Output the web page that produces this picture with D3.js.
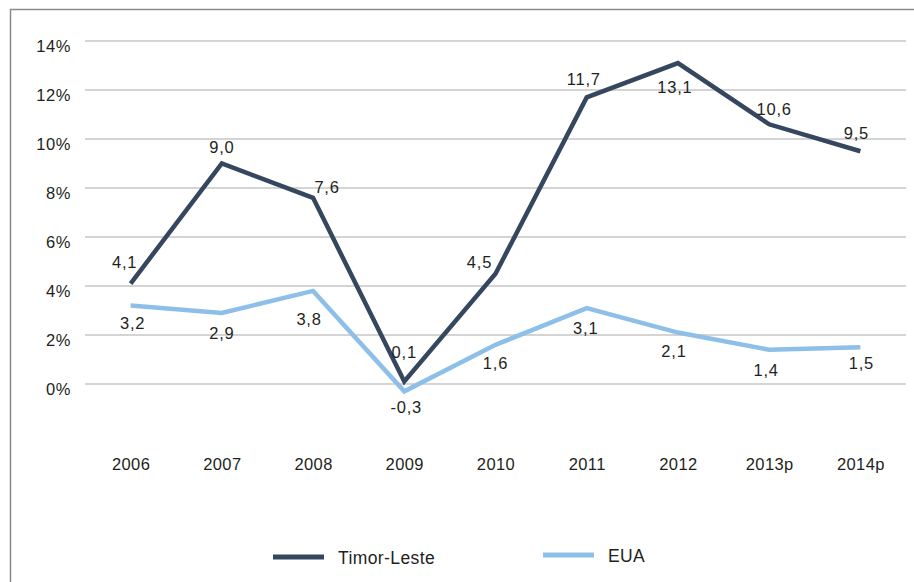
<!DOCTYPE html>
<html>
<head>
<meta charset="utf-8">
<script src="https://cdn.jsdelivr.net/npm/d3@7"></script>
<style>
  body { margin: 0; background: #fff; }
  text { font-family: "Liberation Sans", Arial, sans-serif; fill: #231f20; }
</style>
</head>
<body>
<div class="box"></div>
<script>
// DATA
const years = ['2006', '2007', '2008', '2009', '2010', '2011', '2012', '2013p', '2014p'];
const timor = [4.1, 9.0, 7.6, 0.1, 4.5, 11.7, 13.1, 10.6, 9.5];
const eua = [3.2, 2.9, 3.8, -0.3, 1.6, 3.1, 2.1, 1.4, 1.5];
const yTicks = [0, 2, 4, 6, 8, 10, 12, 14];
const seriesNames = ['Timor-Leste', 'EUA'];

// label nudges (pixels), like the hand placed labels of the original
const timorLabelShift = [[-6, -21], [0, -16], [14, -11], [0, -29], [-16, -12], [-3, -18], [-3, 24], [5, -15], [-4, -18]];
const euaLabelShift = [[2, 17], [0, 20], [-4, 28], [2, 16], [0, 18], [-1, 20], [-4, 19], [-3, 20], [1, 16]];

const width = 914, height = 582;
const colors = ['#34475f', '#8dbfe8'];

const svg = d3.select('.box')
              .append('svg')
              .attr('width', width)
              .attr('height', height);

// outer frame
svg.append('rect')
   .attr('x', 10.5).attr('y', 9.5)
   .attr('width', 920).attr('height', 600)
   .attr('fill', 'none')
   .attr('stroke', '#8a8a8a')
   .attr('stroke-width', 1.5);

const x = d3.scalePoint()
            .domain(years)
            .range([85, 906])
            .padding(0.5);

const y = d3.scaleLinear()
            .domain([0, 14])
            .range([384, 41]);

// gridlines
svg.append('g')
   .selectAll('line')
   .data(yTicks)
   .enter()
   .append('line')
   .attr('x1', 85).attr('x2', 906)
   .attr('y1', d => y(d)).attr('y2', d => y(d))
   .attr('stroke', '#c6c6c6')
   .attr('stroke-width', 1.3);

// y axis labels
const axeY = d3.axisLeft(y)
               .tickValues(yTicks)
               .tickSize(0)
               .tickPadding(0)
               .tickFormat(d => d + '%');
const groupeY = svg.append('g')
                   .attr('transform', 'translate(71, 5)')
                   .call(axeY);
groupeY.select('.domain').remove();
groupeY.selectAll('text')
       .style('font-size', '16.5px')
       .style('letter-spacing', '0.6px')
       .attr('fill', '#231f20');

// x axis labels
const axeX = d3.axisBottom(x).tickSize(0).tickPadding(0);
const groupeX = svg.append('g')
                   .attr('transform', 'translate(0, 458)')
                   .call(axeX);
groupeX.select('.domain').remove();
groupeX.selectAll('text')
       .style('font-size', '16.5px')
       .style('letter-spacing', '0.4px')
       .attr('fill', '#231f20');

// lines
const line = d3.line()
               .x((d, i) => x(years[i]))
               .y(d => y(d));

const allSeries = [timor, eua];
const shifts = [timorLabelShift, euaLabelShift];

allSeries.forEach((vals, s) => {
  svg.append('path')
     .datum(vals)
     .attr('d', line)
     .attr('fill', 'none')
     .attr('stroke', colors[s])
     .attr('stroke-width', 4.5)
     .attr('stroke-linejoin', 'miter');

  svg.append('g')
     .selectAll('text')
     .data(vals)
     .enter()
     .append('text')
     .attr('x', (d, i) => x(years[i]) + shifts[s][i][0])
     .attr('y', (d, i) => y(d) + shifts[s][i][1])
     .attr('dy', '0.36em')
     .attr('text-anchor', 'middle')
     .style('font-size', '16.5px')
     .style('letter-spacing', '0.8px')
     .text(d => d.toFixed(1).replace('.', ','));
});

// legend
const legendX = [273, 543];
const legend = svg.append('g');
seriesNames.forEach((name, s) => {
  legend.append('line')
        .attr('x1', legendX[s]).attr('x2', legendX[s] + 51)
        .attr('y1', 557 - s * 2).attr('y2', 557 - s * 2)
        .attr('stroke', colors[s])
        .attr('stroke-width', 5);
  legend.append('text')
        .attr('x', legendX[s] + 65)
        .attr('y', 564 - s * 2)
        .style('font-size', '17.5px')
        .style('letter-spacing', '0.4px')
        .text(name);
});
</script>
</body>
</html>
